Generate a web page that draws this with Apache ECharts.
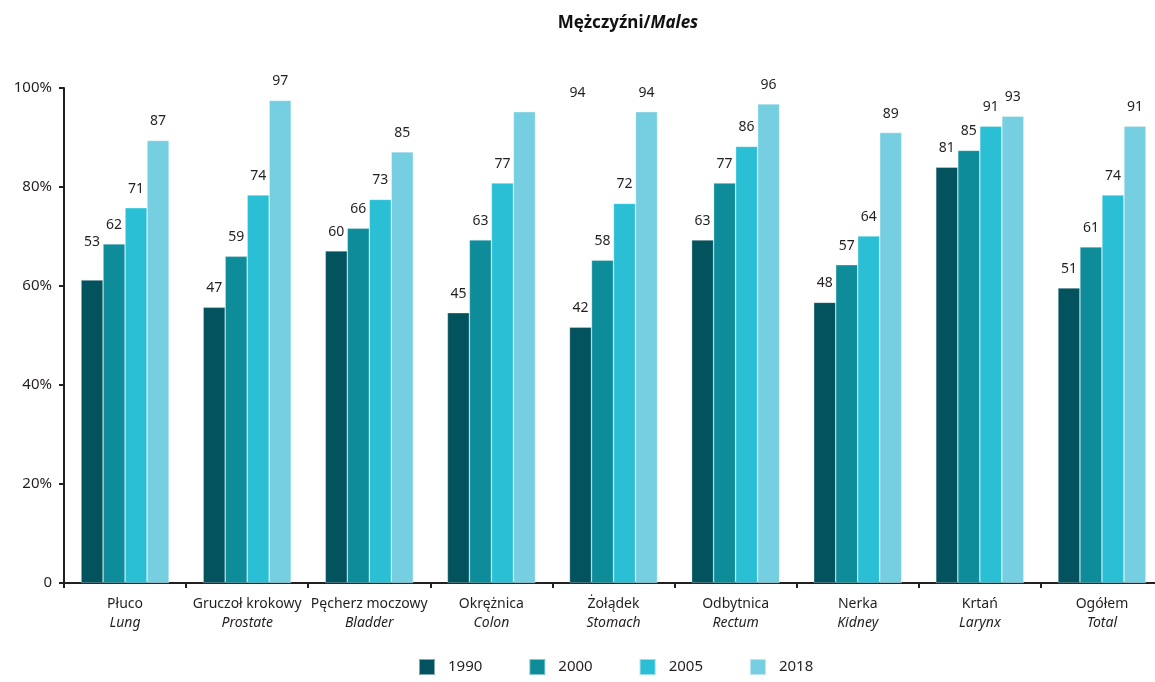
<!DOCTYPE html>
<html><head><meta charset="utf-8">
<script src="https://cdn.jsdelivr.net/npm/echarts@6/dist/echarts.min.js"></script>
<style>html,body{margin:0;padding:0;background:#fff}#c{width:1155px;height:682px}</style>
</head><body><div id="c"></div>
<script>
var catPL = ['Płuco','Gruczoł krokowy','Pęcherz moczowy','Okrężnica','Żołądek','Odbytnica','Nerka','Krtań','Ogółem'];
var catEN = ['Lung','Prostate','Bladder','Colon','Stomach','Rectum','Kidney','Larynx','Total'];
var years = ['1990','2000','2005','2018'];
var bar1990 = [61.2,55.7,67.1,54.6,51.7,69.3,56.7,84.0,59.6];
var bar2000 = [68.5,66.0,71.7,69.3,65.2,80.8,64.3,87.4,67.9];
var bar2005 = [75.8,78.4,77.5,80.8,76.7,88.2,70.1,92.3,78.4];
var bar2018 = [89.4,97.5,87.1,95.2,95.2,96.8,91.0,94.3,92.3];
var lab1990 = [53,47,60,45,42,63,48,81,51];
var lab2000 = [62,59,66,63,58,77,57,85,61];
var lab2005 = [71,74,73,77,72,86,64,91,74];
var lab2018 = [87,97,85,94,94,96,89,93,91];
var yTicks = [0,20,40,60,80,100];

var colors = ['#03535f','#0e8c9a','#2bbfd6','#76cfe0'];
var bars = [bar1990,bar2000,bar2005,bar2018];
var labs = [lab1990,lab2000,lab2005,lab2018];
// label position quirks in the reference
var labelShift = {'0-0':[0,-19],'3-3':[53,0]};
var FONT = 'Noto Sans';

var series = years.map(function(y, s){
  return {
    name: y, type: 'bar', barWidth: 22, barGap: '0%',
    itemStyle: {color: colors[s], borderColor: 'rgba(255,255,255,0.5)', borderWidth: 0.6},
    data: bars[s].map(function(v, i){
      var d = {value: v};
      var k = i + '-' + s;
      if (labelShift[k]) d.label = {offset: labelShift[k]};
      return d;
    }),
    label: {show: true, position: 'top', distance: 12, fontFamily: FONT, fontSize: 14, color: '#231f20',
      formatter: function(p){ return String(labs[s][p.dataIndex]); }}
  };
});

var chart = echarts.init(document.getElementById('c'));
chart.setOption({
  animation: false,
  title: {text: '{a|Mężczyźni/}{b|Males}', left: 623, top: 10, textAlign: 'center',
    textStyle: {rich: {a: {fontFamily: FONT, fontWeight: 'bold', fontSize: 17, color: '#111'},
                       b: {fontFamily: FONT, fontWeight: 'bold', fontStyle: 'italic', fontSize: 17, color: '#111'}}}},
  grid: {left: 64, width: 1099, top: 88, bottom: 99, containLabel: false, outerBoundsMode: 'none'},
  legend: {bottom: 1, left: 413, itemWidth: 16, itemHeight: 16, itemGap: 46, icon: 'rect',
    textStyle: {fontFamily: FONT, fontSize: 15, color: '#231f20', padding: [0,0,0,8]},
    data: years},
  xAxis: {type: 'category', data: catPL,
    axisLine: {lineStyle: {color: '#231f20', width: 2}},
    axisTick: {show: true, length: 5, lineStyle: {color: '#231f20', width: 2}},
    axisLabel: {margin: 12, interval: 0,
      formatter: function(v, i){ return '{a|' + v + '}\n{b|' + catEN[i] + '}'; },
      rich: {a: {fontFamily: FONT, fontSize: 14, color: '#231f20', lineHeight: 19},
             b: {fontFamily: FONT, fontSize: 14, fontStyle: 'italic', color: '#231f20', lineHeight: 19}}}},
  yAxis: {type: 'value', min: yTicks[0], max: yTicks[yTicks.length-1], interval: 20,
    axisLine: {show: true, lineStyle: {color: '#231f20', width: 2}},
    axisTick: {show: true, length: 5, lineStyle: {color: '#231f20', width: 2}},
    splitLine: {show: false},
    axisLabel: {margin: 12, fontFamily: FONT, fontSize: 15, color: '#231f20',
      formatter: function(v){ return v === 0 ? '0' : v + '%'; }}},
  series: series
});
</script></body></html>
